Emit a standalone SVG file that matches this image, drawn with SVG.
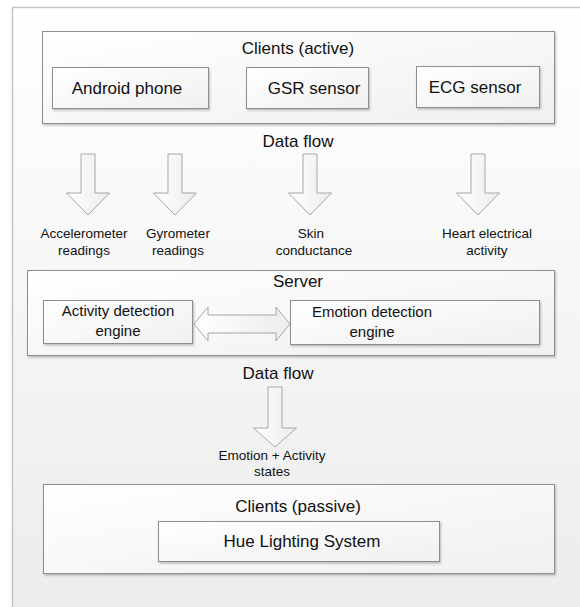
<svg xmlns="http://www.w3.org/2000/svg" width="580" height="607" viewBox="0 0 580 607">
<defs>
<linearGradient id="bg" x1="0" y1="0" x2="0" y2="1">
<stop offset="0" stop-color="#ffffff"/><stop offset="1" stop-color="#ececec"/>
</linearGradient>
<linearGradient id="box" x1="0" y1="0" x2="1" y2="1">
<stop offset="0" stop-color="#ffffff"/><stop offset="1" stop-color="#f0f0f0"/>
</linearGradient>
<linearGradient id="arr" x1="0" y1="0" x2="1" y2="0">
<stop offset="0" stop-color="#ffffff"/><stop offset="1" stop-color="#ececec"/>
</linearGradient>
<filter id="sh" x="-5%" y="-5%" width="115%" height="125%">
<feDropShadow dx="1" dy="1.5" stdDeviation="0.8" flood-color="#000" flood-opacity="0.25"/>
</filter>
</defs>
<style>
.frame{fill:none;stroke:#c4c4c4;stroke-width:1.5}
.outer{fill:url(#box);stroke:#8e8e8e;stroke-width:1;filter:url(#sh)}
.inner{fill:url(#box);stroke:#8e8e8e;stroke-width:1;filter:url(#sh)}
.arrow{fill:url(#arr);stroke:#a6a6a6;stroke-width:1}
text{font-family:"Liberation Sans",Arial,sans-serif;fill:#111;text-anchor:middle}
.lg{font-size:17px}
.md{font-size:15px}
.sm{font-size:13.5px}
</style>
<rect x="0" y="0" width="580" height="607" fill="#ffffff"/>
<rect x="12.5" y="7.5" width="570" height="602" fill="url(#bg)"/>
<path class="frame" d="M12.5,607 V7.5 H580"/>

<g id="clients-active">
<rect class="outer" x="42.5" y="31.5" width="512" height="92"/>
<text class="lg" x="298" y="54">Clients (active)</text>
</g>
<g id="android-phone">
<rect class="inner" x="52.5" y="67.5" width="156" height="41"/>
<text class="lg" x="127" y="94">Android phone</text>
</g>
<g id="gsr-sensor">
<rect class="inner" x="246.5" y="67.5" width="122" height="41"/>
<text class="lg" x="314" y="94">GSR sensor</text>
</g>
<g id="ecg-sensor">
<rect class="inner" x="416.5" y="66.5" width="123" height="41"/>
<text class="lg" x="475" y="93">ECG sensor</text>
</g>

<text class="lg" x="298" y="147">Data flow</text>

<text class="sm" x="84" y="238">Accelerometer</text>
<text class="sm" x="84" y="255">readings</text>
<text class="sm" x="178" y="238">Gyrometer</text>
<text class="sm" x="178" y="255">readings</text>
<text class="sm" x="311" y="238">Skin</text>
<text class="sm" x="314" y="255">conductance</text>
<text class="sm" x="487" y="238">Heart electrical</text>
<text class="sm" x="487" y="255">activity</text>

<g id="server">
<rect class="outer" x="27.5" y="270.5" width="527" height="85"/>
<text class="lg" x="298" y="287">Server</text>
</g>
<g id="activity-engine">
<rect class="inner" x="43.5" y="300.5" width="149" height="43"/>
<text class="md" x="118" y="316">Activity detection</text>
<text class="md" x="118" y="336">engine</text>
</g>
<g id="emotion-engine">
<rect class="inner" x="290.5" y="300.5" width="249" height="44"/>
<text class="md" x="372" y="317">Emotion detection</text>
<text class="md" x="372" y="337">engine</text>
</g>

<text class="lg" x="278" y="379">Data flow</text>
<text class="sm" x="272" y="460">Emotion + Activity</text>
<text class="sm" x="272" y="476">states</text>

<g id="clients-passive">
<rect class="outer" x="43.5" y="484.5" width="511" height="89"/>
<text class="lg" x="298" y="512">Clients (passive)</text>
</g>
<g id="hue-lighting">
<rect class="inner" x="158.5" y="521.5" width="281" height="40"/>
<text class="lg" x="302" y="547">Hue Lighting System</text>
</g>

<g id="connectors">
<path class="arrow" d="M81,154 H95 V193 H109.5 L88,215 L66.5,193 H81 Z"/>
<path class="arrow" d="M168,154 H182 V193 H196.5 L175,215 L153.5,193 H168 Z"/>
<path class="arrow" d="M303,154 H317 V193 H331.5 L310,215 L288.5,193 H303 Z"/>
<path class="arrow" d="M471,154 H485 V193 H499.5 L478,215 L456.5,193 H471 Z"/>
<path class="arrow" d="M194,324 L208,307 V315 H276 V307 L290,324 L276,341 V333 H208 V341 Z"/>
<path class="arrow" d="M268,387 H282 V428 H296.5 L275,447 L253.5,428 H268 Z"/>
</g>
</svg>
